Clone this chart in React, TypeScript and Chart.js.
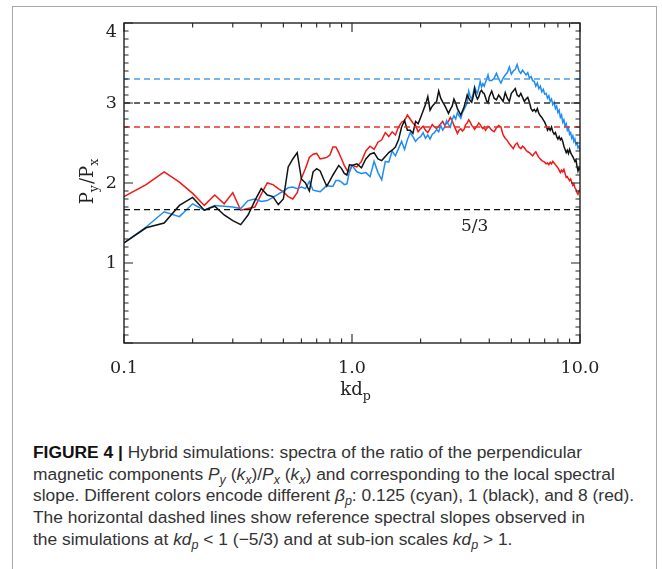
import { useEffect, useRef } from 'react';
import { Chart, registerables } from 'chart.js';

Chart.register(...registerables);

// wavenumber grid kd_p
const kdp = [
  0.1, 0.125, 0.15, 0.175, 0.2, 0.225, 0.25, 0.275, 0.3, 0.325,
  0.35, 0.375, 0.4, 0.425, 0.45, 0.475, 0.5, 0.525, 0.55, 0.575,
  0.6, 0.625, 0.65, 0.675, 0.7, 0.725, 0.75, 0.775, 0.8, 0.825,
  0.85, 0.875, 0.9, 0.925, 0.95, 0.975, 1.0,
  1.05, 1.1, 1.15, 1.2, 1.25, 1.3, 1.35, 1.4, 1.45, 1.5,
  1.55, 1.6, 1.65, 1.7, 1.75, 1.8, 1.85, 1.9, 1.95, 2.0,
  2.05, 2.1, 2.15, 2.2, 2.25, 2.3, 2.35, 2.4, 2.45, 2.5,
  2.55, 2.6, 2.65, 2.7, 2.75, 2.8, 2.85, 2.9, 2.95, 3.0,
  3.05, 3.1, 3.15, 3.2, 3.25, 3.3, 3.35, 3.4, 3.45, 3.5,
  3.55, 3.6, 3.65, 3.7, 3.75, 3.8, 3.85, 3.9, 3.95, 4.0,
  4.1, 4.2, 4.3, 4.4, 4.5, 4.6, 4.7, 4.8, 4.9, 5.0,
  5.1, 5.2, 5.3, 5.4, 5.5, 5.6, 5.7, 5.8, 5.9, 6.0,
  6.1, 6.2, 6.3, 6.4, 6.5, 6.6, 6.7, 6.8, 6.9, 7.0,
  7.1, 7.2, 7.3, 7.4, 7.5, 7.6, 7.7, 7.8, 7.9, 8.0,
  8.1, 8.2, 8.3, 8.4, 8.5, 8.6, 8.7, 8.8, 8.9, 9.0,
  9.1, 9.2, 9.3, 9.4, 9.5, 9.6, 9.7, 9.8, 9.9, 10.0,
];

// beta_p = 0.125 (cyan)
const betaLow = [
  1.25, 1.45, 1.64, 1.58, 1.74, 1.66, 1.72, 1.71, 1.70, 1.68,
  1.78, 1.80, 1.77, 1.78, 1.82, 1.86, 1.90, 1.94, 1.95, 1.93,
  1.95, 1.93, 2.02, 1.91, 1.90, 1.89, 1.93, 1.97, 1.96, 1.96,
  2.03, 2.03, 2.01, 1.98, 1.99, 2.15, 2.22,
  2.14, 2.12, 2.13, 2.08, 2.27, 2.13, 2.04, 2.27, 2.26, 2.40,
  2.34, 2.43, 2.52, 2.42, 2.54, 2.63, 2.58, 2.52, 2.56, 2.58,
  2.63, 2.56, 2.60, 2.55, 2.61, 2.63, 2.67, 2.64, 2.72, 2.66,
  2.70, 2.78, 2.73, 2.70, 2.79, 2.84, 2.80, 2.88, 2.84, 2.81,
  2.88, 2.92, 2.96, 3.00, 3.15, 3.08, 3.05, 3.12, 3.20, 3.15,
  3.12, 3.19, 3.27, 3.20, 3.24, 3.21, 3.26, 3.30, 3.35, 3.28,
  3.28, 3.31, 3.37, 3.30, 3.25, 3.31, 3.35, 3.38, 3.45, 3.36,
  3.40, 3.42, 3.48, 3.40, 3.37, 3.41, 3.38, 3.35, 3.38, 3.31,
  3.33, 3.28, 3.27, 3.21, 3.25, 3.18, 3.21, 3.14, 3.17, 3.11,
  3.12, 3.06, 3.09, 3.02, 3.05, 2.98, 3.01, 2.93, 2.96, 2.88,
  2.91, 2.82, 2.85, 2.76, 2.79, 2.71, 2.74, 2.66, 2.69, 2.61,
  2.63, 2.56, 2.59, 2.52, 2.55, 2.48, 2.50, 2.44, 2.46, 2.40,
];

// beta_p = 1 (black)
const betaOne = [
  1.25, 1.44, 1.50, 1.72, 1.82, 1.66, 1.71, 1.60, 1.53, 1.48,
  1.60, 1.78, 1.93, 1.85, 1.83, 1.73, 1.80, 2.20, 2.30, 2.38,
  2.05, 2.00, 1.90, 2.14, 2.18, 2.15, 2.05, 1.96, 2.03, 2.10,
  2.16, 2.22, 2.18, 2.12, 2.10, 2.23, 2.22,
  2.24, 2.19, 2.30, 2.36, 2.38, 2.30, 2.28, 2.33, 2.38, 2.41,
  2.45, 2.54, 2.70, 2.78, 2.66, 2.66, 2.62, 2.77, 2.74, 2.82,
  2.90, 2.98, 3.08, 2.91, 2.96, 2.99, 3.02, 3.15, 3.06, 3.01,
  2.97, 2.92, 2.87, 2.92, 2.96, 3.05, 3.00, 2.93, 2.89, 2.85,
  2.90, 2.95, 3.02, 3.10, 3.06, 3.03, 3.01, 3.08, 3.18, 3.09,
  3.05, 3.08, 3.14, 3.16, 3.13, 3.12, 3.07, 3.02, 3.00, 3.08,
  3.15, 3.06, 3.04, 3.10, 3.06, 3.02, 3.13, 3.06, 3.02, 3.12,
  3.15, 3.18, 3.10, 3.08, 3.12, 3.07, 3.02, 3.05, 3.07, 3.01,
  2.93, 2.90, 2.92, 2.89, 2.93, 2.87, 2.84, 2.82, 2.79, 2.76,
  2.72, 2.66, 2.69, 2.66, 2.70, 2.64, 2.61, 2.63, 2.58, 2.55,
  2.58, 2.54, 2.56, 2.52, 2.46, 2.42, 2.38, 2.41, 2.37, 2.42,
  2.38, 2.35, 2.33, 2.30, 2.27, 2.29, 2.21, 2.15, 2.19, 2.16,
];

// beta_p = 8 (red)
const betaHigh = [
  1.83, 1.98, 2.14, 2.01, 1.87, 1.72, 1.85, 1.74, 1.88, 1.66,
  1.68, 1.70, 1.86, 2.00, 1.98, 1.93, 1.89, 1.83, 1.80, 1.88,
  2.06, 2.18, 2.32, 2.36, 2.37, 2.30, 2.31, 2.32, 2.35, 2.45,
  2.45, 2.38, 2.30, 2.22, 2.16, 2.14, 2.22,
  2.20, 2.27, 2.40, 2.46, 2.42, 2.51, 2.54, 2.63, 2.58, 2.64,
  2.60, 2.70, 2.76, 2.78, 2.85, 2.80, 2.75, 2.72, 2.64, 2.68,
  2.71, 2.66, 2.63, 2.68, 2.73, 2.70, 2.68, 2.71, 2.74, 2.77,
  2.72, 2.75, 2.77, 2.82, 2.78, 2.72, 2.67, 2.62, 2.66, 2.68,
  2.65, 2.67, 2.73, 2.75, 2.79, 2.76, 2.72, 2.70, 2.67, 2.70,
  2.72, 2.75, 2.73, 2.70, 2.68, 2.70, 2.66, 2.68, 2.71, 2.70,
  2.66, 2.64, 2.69, 2.72, 2.70, 2.60, 2.56, 2.53, 2.49, 2.46,
  2.43, 2.48, 2.50, 2.45, 2.43, 2.46, 2.44, 2.41, 2.39, 2.38,
  2.36, 2.34, 2.37, 2.39, 2.35, 2.32, 2.30, 2.28, 2.27, 2.26,
  2.24, 2.25, 2.23, 2.26, 2.24, 2.27, 2.25, 2.23, 2.21, 2.19,
  2.16, 2.13, 2.16, 2.14, 2.17, 2.12, 2.07, 2.08, 2.05, 2.03,
  2.05, 2.01, 1.97, 1.99, 1.94, 1.92, 1.88, 1.86, 1.90, 1.92,
];

// reference spectral slopes (dashed)
const refLevels = [3.3, 3.0, 2.7, 5 / 3];
const refColors = ['#4a9ef0', '#333333', '#e8302a', '#111111'];

const xMajor = [0.1, 1, 10];
const xTickLabels = ['0.1', '1.0', '10.0'];
const yMajor = [1, 2, 3, 4];
const yTickLabels = ['1', '2', '3', '4'];

const slopeLabel = '5/3';
const slopeLabelAt = { x: 3.45, y: 1.45 };

const SERIF = '"DejaVu Serif", serif';

// draws text pieces, subscripts shrunk and lowered; returns width
function drawPieces(ctx: CanvasRenderingContext2D, pieces: [string, boolean][], x: number, y: number, size: number, measureOnly = false) {
  let cx = x;
  for (const [txt, sub] of pieces) {
    const s = sub ? size * 0.7 : size;
    ctx.font = `${s}px ${SERIF}`;
    if (!measureOnly) ctx.fillText(txt, cx, sub ? y + size * 0.3 : y);
    cx += ctx.measureText(txt).width + (sub ? 1 : 0);
  }
  return cx - x;
}

const idlFrame = {
  id: 'idlFrame',
  afterDraw(chart: any) {
    const { ctx, chartArea: a, scales } = chart;
    const xs = scales.x;
    const ys = scales.y;
    ctx.save();
    ctx.strokeStyle = '#222';
    ctx.lineWidth = 1.4;
    ctx.strokeRect(a.left, a.top, a.right - a.left, a.bottom - a.top);
    ctx.lineWidth = 1.1;
    ctx.beginPath();
    for (let i = 0; i <= 40; i++) {
      const py = ys.getPixelForValue(i / 10);
      const len = i % 10 === 0 ? 9 : 4.5;
      ctx.moveTo(a.left, py);
      ctx.lineTo(a.left + len, py);
      ctx.moveTo(a.right, py);
      ctx.lineTo(a.right - len, py);
    }
    for (const dec of [0.1, 1]) {
      for (let m = 1; m <= 10; m++) {
        const px = xs.getPixelForValue(dec * m);
        const len = m === 1 || m === 10 ? 9 : 4.5;
        ctx.moveTo(px, a.bottom);
        ctx.lineTo(px, a.bottom - len);
        ctx.moveTo(px, a.top);
        ctx.lineTo(px, a.top + len);
      }
    }
    ctx.stroke();

    ctx.fillStyle = '#222';

    // top y label sits just inside the frame, as IDL draws it
    ctx.font = `17.5px ${SERIF}`;
    ctx.textAlign = 'right';
    ctx.textBaseline = 'middle';
    ctx.fillText(yTickLabels[yTickLabels.length - 1], a.left - 7, a.top + 9);

    ctx.textBaseline = 'alphabetic';
    ctx.textAlign = 'left';

    // x title: kd_p
    const xt: [string, boolean][] = [['kd', false], ['p', true]];
    const xw = drawPieces(ctx, xt, 0, 0, 18, true);
    drawPieces(ctx, xt, (a.left + a.right) / 2 - xw / 2 + 4, 395, 18);

    // y title: P_y/P_x rotated
    const yt: [string, boolean][] = [['P', false], ['y', true], ['/P', false], ['x', true]];
    const yw = drawPieces(ctx, yt, 0, 0, 18, true);
    ctx.save();
    ctx.translate(93, 181);
    ctx.rotate(-Math.PI / 2);
    drawPieces(ctx, yt, -yw / 2, 0, 18);
    ctx.restore();

    // 5/3 annotation
    ctx.font = `17px ${SERIF}`;
    ctx.textAlign = 'center';
    ctx.textBaseline = 'middle';
    ctx.fillText(slopeLabel, xs.getPixelForValue(slopeLabelAt.x), ys.getPixelForValue(slopeLabelAt.y));
    ctx.restore();
  },
};

function SpectraChart() {
  const canvasRef = useRef<HTMLCanvasElement>(null);

  useEffect(() => {
    const ctx = canvasRef.current?.getContext('2d');
    if (!ctx) return;

    const toPoints = (ys: number[]) => kdp.map((k, i) => ({ x: k, y: ys[i] }));
    const flat = (v: number) => [
      { x: kdp[0], y: v },
      { x: kdp[kdp.length - 1], y: v },
    ];
    const tickFont = { family: SERIF, size: 17.5 };

    const chart = new Chart(ctx, {
      type: 'line',
      data: {
        datasets: [
          ...refLevels.map((v, i) => ({
            data: flat(v),
            borderColor: refColors[i],
            borderDash: [6, 4],
            borderWidth: 1.3,
            pointRadius: 0,
          })),
          { data: toPoints(betaOne), borderColor: '#111111', borderWidth: 1.5, pointRadius: 0 },
          { data: toPoints(betaLow), borderColor: '#1f8cf5', borderWidth: 1.5, pointRadius: 0 },
          { data: toPoints(betaHigh), borderColor: '#f01818', borderWidth: 1.5, pointRadius: 0 },
        ],
      },
      options: {
        animation: false,
        responsive: false,
        layout: { padding: { top: 23, right: 82, left: 0, bottom: 0 } },
        plugins: { legend: { display: false }, tooltip: { enabled: false } },
        scales: {
          x: {
            type: 'logarithmic',
            min: 0.1,
            max: 10,
            grid: { display: false, drawTicks: false },
            border: { display: false },
            afterBuildTicks: (s: any) => {
              s.ticks = xMajor.map((v) => ({ value: v }));
            },
            afterFit: (s: any) => {
              s.height = 77;
            },
            ticks: {
              callback: (_v: any, i: number) => xTickLabels[i],
              font: tickFont,
              color: '#222',
              padding: 15,
              maxRotation: 0,
              autoSkip: false,
            },
          },
          y: {
            min: 0,
            max: 4,
            grid: { display: false, drawTicks: false },
            border: { display: false },
            afterBuildTicks: (s: any) => {
              s.ticks = yMajor.map((v) => ({ value: v }));
            },
            afterFit: (s: any) => {
              s.width = 124;
            },
            ticks: {
              // the top label is drawn by the frame plugin
              callback: (_v: any, i: number) => (i === yTickLabels.length - 1 ? '' : yTickLabels[i]),
              font: tickFont,
              color: '#222',
              padding: 7,
              autoSkip: false,
            },
          },
        },
      },
      plugins: [idlFrame],
    });

    return () => chart.destroy();
  }, []);

  return <canvas ref={canvasRef} width={662} height={420} style={{ position: 'absolute', left: 0, top: 0 }} />;
}

const subStyle = { fontSize: '0.72em', verticalAlign: '-0.3em', lineHeight: 0 } as const;

export default function App() {
  return (
    <div style={{ position: 'absolute', left: 0, top: 0, width: 662, height: 569, overflow: 'hidden', background: '#fff' }}>
      <div
        style={{
          position: 'absolute',
          left: 12,
          top: 6,
          width: 643,
          height: 600,
          border: '1px solid #a8a8a8',
        }}
      />
      <SpectraChart />
      <div
        style={{
          position: 'absolute',
          left: 33,
          top: 442,
          font: '17.4px "Liberation Sans", Arial, sans-serif',
          color: '#333',
          lineHeight: '21.7px',
          whiteSpace: 'nowrap',
        }}
      >
        <div>
          <b style={{ color: '#111' }}>FIGURE 4 |</b> Hybrid simulations: spectra of the ratio of the perpendicular
        </div>
        <div>
          magnetic components <i>P<sub style={subStyle}>y</sub></i> (<i>k<sub style={subStyle}>x</sub></i>)/<i>P<sub style={subStyle}>x</sub></i> (<i>k<sub style={subStyle}>x</sub></i>) and corresponding to the local spectral
        </div>
        <div>
          slope. Different colors encode different <i>β<sub style={subStyle}>p</sub></i>: 0.125 (cyan), 1 (black), and 8 (red).
        </div>
        <div>The horizontal dashed lines show reference spectral slopes observed in</div>
        <div>
          the simulations at <i>kd<sub style={subStyle}>p</sub></i> &lt; 1 (−5/3) and at sub-ion scales <i>kd<sub style={subStyle}>p</sub></i> &gt; 1.
        </div>
      </div>
    </div>
  );
}
